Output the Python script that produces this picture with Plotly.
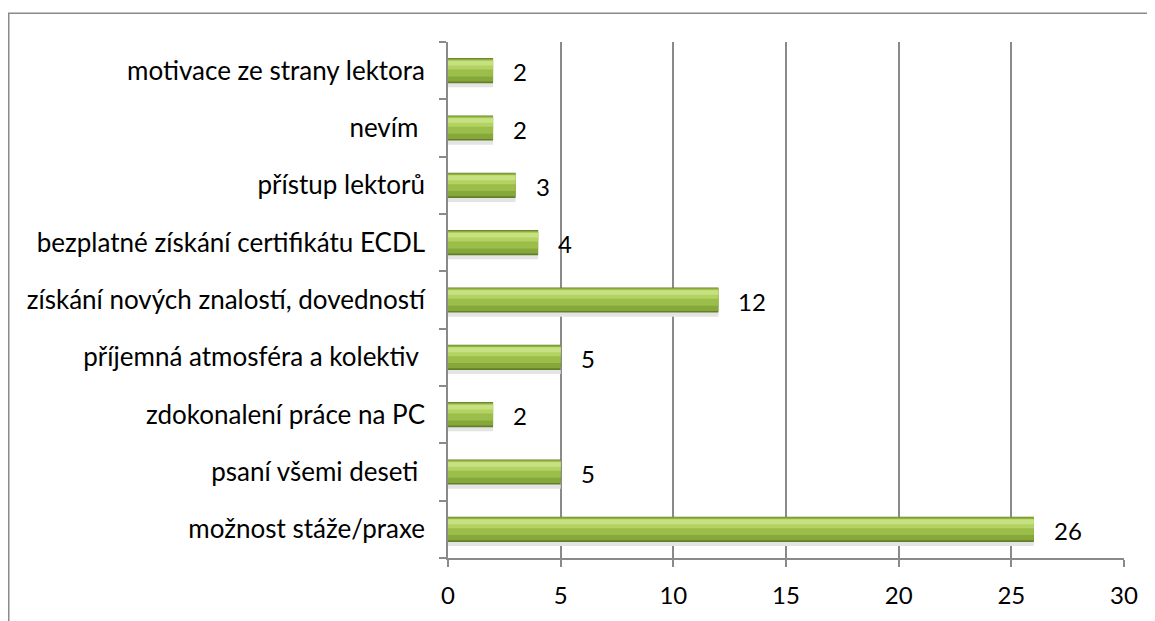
import plotly.graph_objects as go

categories = [
    "možnost stáže/praxe",
    "psaní všemi deseti ",
    "zdokonalení práce na PC",
    "příjemná atmosféra a kolektiv ",
    "získání nových znalostí, dovedností",
    "bezplatné získání certifikátu ECDL",
    "přístup lektorů",
    "nevím ",
    "motivace ze strany lektora",
]
values = [26, 5, 2, 5, 12, 4, 3, 2, 2]
x_ticks = [0, 5, 10, 15, 20, 25, 30]

FONT = "Lato, Calibri, 'Open Sans', sans-serif"

# layered bars to imitate the bevelled gradient look: (offset, width, colour)
layers = [
    (-0.29, 0.12, "#e4e4e4"),
    (-0.22, 0.44, "#62802a"),
    (-0.19, 0.40, "#86a83a"),
    (-0.10, 0.29, "#9bbd4a"),
    (0.02, 0.16, "#b2d262"),
    (0.09, 0.08, "#c7e182"),
]

fig = go.Figure()
for off, w, col in layers:
    fig.add_trace(go.Bar(
        y=categories, x=values, orientation="h",
        width=w, offset=off,
        marker=dict(color=col, line=dict(width=0)),
        hoverinfo="skip", showlegend=False,
    ))

annotations = [
    dict(x=v, y=c, xref="x", yref="y", text=str(v), showarrow=False,
         xanchor="left", yanchor="middle", xshift=18, yshift=-1,
         font=dict(family=FONT, size=24, color="#000000"))
    for c, v in zip(categories, values)
]

W, H = 1147, 613
L, T = 440, 34
PW, PH = 676, 519

fig.update_layout(
    width=W, height=H,
    margin=dict(l=L, r=W - L - PW, t=T, b=H - T - PH),
    paper_bgcolor="white", plot_bgcolor="white",
    barmode="overlay",
    font=dict(family=FONT, size=26, color="#000000"),
    xaxis=dict(
        range=[0, 30], tickvals=x_ticks, ticktext=[str(t) for t in x_ticks],
        showgrid=True, gridcolor="#8a8a8a", gridwidth=1.5,
        showline=True, linecolor="#8a8a8a", linewidth=1.5,
        ticks="outside", ticklen=7, tickcolor="#8a8a8a", tickwidth=1.5,
        tickfont=dict(family=FONT, size=24), zeroline=False,
        ticklabelstandoff=8,
    ),
    yaxis=dict(
        type="category", categoryorder="array", categoryarray=categories,
        showgrid=False, showline=True, linecolor="#8a8a8a", linewidth=1.5,
        ticks="outside", ticklen=7, tickcolor="#8a8a8a", tickwidth=1.5,
        tickson="boundaries", tickfont=dict(family=FONT, size=26),
        ticklabelstandoff=16, range=[-0.5, 8.5],
    ),
    annotations=annotations,
    shapes=[dict(
        type="rect", xref="paper", yref="paper",
        x0=(0.75 - L) / PW, x1=1.2, y0=-0.3, y1=(T + PH - 5) / PH,
        line=dict(color="#8a8a8a", width=1.5), fillcolor="rgba(0,0,0,0)",
        layer="below",
    )],
)

fig.write_html("out.html")
